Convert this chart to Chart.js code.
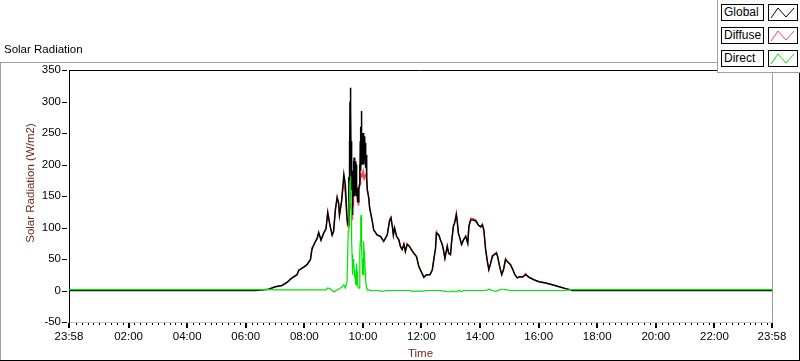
<!DOCTYPE html>
<html>
<head>
<meta charset="utf-8">
<script src="https://cdn.jsdelivr.net/npm/chart.js@4.4.1/dist/chart.umd.min.js"></script>
<style>
  html, body { margin: 0; padding: 0; background: #fff; }
  #wrap { position: relative; width: 800px; height: 361px; overflow: hidden; }
  #legend { position: absolute; left: 717px; top: 0; width: 83px; height: 73px; background: #fff;
    border-left: 1px solid #a0a0a0; border-bottom: 1px solid #a0a0a0; box-sizing: border-box;
    font: 12px "Liberation Sans", Arial, sans-serif; color: #000; }
  .row { position: absolute; left: 3px; height: 17px; width: 78px; }
  .name { position: absolute; left: 0; top: 0; width: 43px; height: 17px; border: 1px solid #000;
    box-sizing: border-box; padding-left: 2px; line-height: 15px; }
  .swatch { position: absolute; left: 47px; top: 0; width: 30px; height: 17px; border: 1px solid #000;
    box-sizing: border-box; }
  .swatch svg { display: block; }
</style>
</head>
<body>
<div id="wrap">
  <canvas id="chart" width="800" height="361"></canvas>
  <div id="legend"></div>
</div>
<script>
// time of day in hours (23:58 the evening before = -0.03)
const timeHours = [
  -0.03, 6.33, 6.78, 7.01, 7.24, 7.41, 7.58, 7.75, 7.81, 7.98,
  8.09, 8.21, 8.26, 8.35, 8.44, 8.49, 8.57, 8.66, 8.74, 8.80,
  8.87, 8.95, 9.00, 9.06, 9.12, 9.17, 9.20, 9.27, 9.35, 9.40,
  9.46,
  9.50, 9.52, 9.53, 9.54, 9.55, 9.56, 9.57, 9.58, 9.59, 9.60,
  9.61, 9.62, 9.63, 9.64, 9.65, 9.66, 9.67, 9.68, 9.69, 9.70,
  9.71, 9.72, 9.73, 9.74, 9.75, 9.76, 9.77, 9.78, 9.79, 9.80,
  9.81, 9.83, 9.84, 9.86, 9.88, 9.89, 9.90, 9.91, 9.92, 9.93,
  9.94, 9.95, 9.96, 9.97, 9.98, 9.99, 10.00, 10.01, 10.02, 10.03,
  10.04, 10.05, 10.06, 10.07, 10.08, 10.09, 10.10, 10.11, 10.13, 10.15,
  10.20, 10.23, 10.32, 10.37, 10.49, 10.60, 10.71, 10.83, 10.91, 10.96,
  11.01, 11.04, 11.08, 11.15, 11.23, 11.28, 11.34, 11.40, 11.45, 11.51,
  11.59, 11.65, 11.74, 11.83, 11.91, 11.99, 12.08, 12.17, 12.29, 12.37,
  12.42, 12.48, 12.51, 12.59, 12.65, 12.71, 12.76, 12.80, 12.88, 12.93,
  12.99, 13.03, 13.09, 13.13, 13.19, 13.22, 13.26, 13.31, 13.37, 13.43,
  13.51, 13.58, 13.62, 13.68, 13.77, 13.86, 13.94, 14.02, 14.08, 14.13,
  14.19, 14.25, 14.30, 14.36, 14.42, 14.51, 14.56, 14.60, 14.67, 14.74,
  14.80, 14.87, 14.93, 15.04, 15.12, 15.19, 15.27, 15.36, 15.44, 15.56,
  15.67, 15.84, 16.01, 16.24, 16.47, 16.70, 16.92, 17.10, 17.16, 23.97
];
const globalW = [
  0, 0, 2, 6, 8, 13, 20, 25, 32, 37,
  41, 49, 65, 75, 83, 92, 80, 91, 98, 123,
  105, 88, 94, 128, 147, 139, 120, 141, 184, 168,
  115,
  104, 180, 150, 237, 200, 300, 322, 220, 290, 190,
  237, 160, 190, 140, 120, 175, 150, 205, 160, 211,
  170, 195, 150, 184, 155, 205, 170, 200, 150, 163,
  140, 160, 141, 160, 168, 200, 170, 237, 190, 260,
  200, 285, 210, 250, 200, 240, 205, 230, 200, 250,
  210, 237, 215, 245, 205, 234, 195, 215, 179, 160,
  147, 131, 110, 96, 88, 86, 78, 88, 110, 115,
  100, 88, 99, 86, 80, 70, 65, 73, 62, 73,
  70, 65, 59, 54, 38, 30, 21, 25, 25, 33,
  49, 67, 91, 88, 80, 73, 62, 51, 70, 59,
  57, 78, 102, 107, 120, 110, 91, 83, 73, 80,
  86, 75, 102, 112, 112, 110, 104, 101, 104, 96,
  65, 46, 33, 43, 54, 58, 59, 54, 38, 25,
  33, 49, 46, 41, 33, 25, 20, 22, 21, 25,
  21, 17, 14, 12, 9, 6, 3, 1, 0, 0
];
const diffuseW = [
  0, 0, 2, 6, 8, 13, 20, 25, 32, 37,
  41, 49, 68, 75, 83, 92, 80, 91, 98, 126,
  105, 88, 94, 128, 150, 139, 118, 141, 172, 152,
  105,
  100, 115, 120, 132, 130, 138, 138, 135, 132, 130,
  128, 122, 122, 115, 112, 130, 135, 145, 150, 155,
  158, 160, 150, 160, 150, 168, 165, 165, 150, 150,
  140, 150, 136, 155, 165, 175, 168, 178, 175, 182,
  180, 186, 180, 185, 180, 188, 185, 190, 185, 180,
  176, 178, 176, 182, 180, 186, 180, 186, 172, 160,
  147, 131, 110, 96, 88, 86, 78, 88, 113, 117,
  100, 88, 101, 86, 80, 70, 65, 75, 62, 75,
  70, 65, 59, 54, 38, 30, 21, 25, 25, 33,
  49, 67, 94, 88, 80, 73, 62, 51, 72, 59,
  57, 78, 102, 107, 124, 110, 91, 83, 73, 80,
  86, 75, 102, 115, 114, 112, 104, 101, 106, 96,
  65, 46, 33, 43, 56, 58, 61, 54, 38, 25,
  33, 51, 46, 41, 33, 25, 20, 22, 21, 27,
  21, 17, 14, 12, 9, 6, 3, 1, 0, 0
];
const directW = [
  1.5, 1.5, 1.5, 1, 1, 1, 1, 1, 1, 1,
  1, 1, 1, 1, 1, 1, 1, 1, 1, 4,
  3, 0, -2, -1, 1, 2, 3, 5, 9, 4,
  14,
  94, 120, 141, 141, 160, 175, 181, 170, 150, 131,
  110, 80, 57, 40, 25, 35, 50, 40, 46, 35,
  30, 30, 20, 25, 15, 10, 9, 25, 43, 30,
  15, 9, 5, 4, 4, 30, 60, 78, 100, 115,
  120, 110, 67, 50, 30, 25, 40, 25, 45, 78,
  60, 62, 40, 50, 30, 27, 15, 8, 4, 2,
  1, 0, 0, 0, 0, -1, -1, 0, 0, 0,
  0, 0, 0, 0, 0, 0, 0, 0, 0, 0,
  0, -1, -1, -1, -1, -1, -1, 0, 0, 0,
  0, 0, 0, 0, 0, -1, -1, -1, -2, -2,
  -2, -1, -1, -2, -2, -1, -1, 0, -2, 0,
  0, 0, 0, 0, 0, 0, 0, 0, 0, 0,
  0, 1, 2, 1, 0, -1, -1, 0, 1, 2,
  2, 1, 1, 0, 0, 0, 0, 0, 0, 0,
  0, 0, 0, 0, 0, 0, 0, 1.5, 1.5, 1.5
];

const seriesNames = ['Global', 'Diffuse', 'Direct'];
const seriesColors = ['#000000', '#ff4444', '#00e400'];
const seriesValues = [globalW, diffuseW, directW];

const xTickHours = [-2 / 60, 2, 4, 6, 8, 10, 12, 14, 16, 18, 20, 22, 24 - 2 / 60];
const xTickLabels = ['23:58', '02:00', '04:00', '06:00', '08:00', '10:00', '12:00',
  '14:00', '16:00', '18:00', '20:00', '22:00', '23:58'];
const yTicks = [-50, 0, 50, 100, 150, 200, 250, 300, 350];

const FONT = '"Liberation Sans", Arial, sans-serif';
const TITLE_COLOR = '#6a2c1c';

// legend, LabVIEW style: name box + small zigzag swatch
const legend = document.getElementById('legend');
seriesNames.forEach((name, i) => {
    const row = document.createElement('div');
    row.className = 'row';
    row.style.top = (4 + i * 23) + 'px';
    row.innerHTML = `
      <div class="name">${name}</div>
      <div class="swatch">
        <svg width="28" height="15"><polyline points="2,13 9,3 17,12 25,3" fill="none"
          stroke="${seriesColors[i]}" stroke-width="1"/></svg>
      </div>`;
    legend.appendChild(row);
});

const framePlugin = {
    id: 'frame',
    beforeDraw(chart) {
        const ctx = chart.ctx;
        const a = chart.chartArea;
        ctx.save();
        ctx.fillStyle = '#fff';
        ctx.fillRect(0, 0, chart.width, chart.height);
        ctx.lineWidth = 1;
        // panel border
        ctx.strokeStyle = '#a0a0a0';
        ctx.beginPath();
        ctx.moveTo(0, 62.5); ctx.lineTo(717, 62.5);
        ctx.moveTo(0.5, 62); ctx.lineTo(0.5, 361);
        ctx.stroke();
        ctx.strokeStyle = '#000';
        ctx.beginPath();
        ctx.moveTo(0, 360.5); ctx.lineTo(800, 360.5);
        ctx.moveTo(799.5, 72); ctx.lineTo(799.5, 361);
        ctx.stroke();
        // caption
        ctx.fillStyle = '#000';
        ctx.font = '11.5px ' + FONT;
        ctx.textBaseline = 'middle';
        ctx.fillText('Solar Radiation', 4, 50);
        // plot box top and right
        ctx.strokeStyle = '#000';
        ctx.beginPath();
        ctx.moveTo(a.left, a.top + 0.5); ctx.lineTo(a.right, a.top + 0.5);
        ctx.stroke();
        ctx.strokeStyle = '#a0a0a0';
        ctx.beginPath();
        ctx.moveTo(a.right + 0.5, a.top); ctx.lineTo(a.right + 0.5, a.bottom);
        ctx.stroke();
        ctx.restore();
    },
    afterDraw(chart) {
        const ctx = chart.ctx;
        const a = chart.chartArea;
        const xs = chart.scales.x;
        const ys = chart.scales.y;
        ctx.save();
        ctx.fillStyle = '#000';
        // y tick dashes
        yTicks.forEach(v => {
            ctx.fillRect(62, Math.round(ys.getPixelForValue(v)), 5, 1);
        });
        // x ticks: majors every 2 h, minors every 12 min
        for (let m = 12; m < 24 * 60 - 2; m += 12) {
            if (m % 120 === 0) continue;
            ctx.fillRect(Math.round(xs.getPixelForValue(m / 60)), a.bottom + 1, 1, 2);
        }
        xTickHours.forEach(h => {
            ctx.fillRect(Math.round(xs.getPixelForValue(h)) - 1, a.bottom + 1, 2, 5);
        });
        // axis titles
        ctx.fillStyle = TITLE_COLOR;
        ctx.font = '11.5px ' + FONT;
        ctx.textAlign = 'center';
        ctx.textBaseline = 'middle';
        ctx.fillText('Time', (a.left + a.right) / 2, 354);
        ctx.translate(31, 183);
        ctx.rotate(-Math.PI / 2);
        ctx.fillText('Solar Radiation (W/m2)', 0, 0);
        ctx.restore();
    }
};

// direct on top, then global, diffuse underneath
const drawOrder = [1, 2, 0];
const lineWidths = [1.5, 1.2, 1.2];

new Chart(document.getElementById('chart'), {
    type: 'line',
    data: {
        datasets: seriesNames.map((name, i) => ({
            label: name,
            data: timeHours.map((t, k) => ({ x: t, y: seriesValues[i][k] })),
            borderColor: seriesColors[i],
            borderWidth: lineWidths[i],
            pointRadius: 0,
            tension: 0,
            fill: false,
            order: drawOrder[i]
        }))
    },
    options: {
        responsive: false,
        animation: false,
        events: [],
        layout: { padding: { top: 70, right: 28, left: 0, bottom: 0 } },
        plugins: { legend: { display: false }, tooltip: { enabled: false } },
        scales: {
            x: {
                type: 'linear',
                min: -2 / 60,
                max: 24 - 2 / 60,
                afterFit: s => { s.height = 39; },
                afterBuildTicks: s => { s.ticks = xTickHours.map(v => ({ value: v })); },
                grid: { drawOnChartArea: false, drawTicks: false },
                border: { color: '#c8c8c8' },
                ticks: {
                    autoSkip: false,
                    maxRotation: 0,
                    padding: 8,
                    color: '#000',
                    font: { family: FONT, size: 11.5 },
                    callback: v => {
                        const i = xTickHours.findIndex(h => Math.abs(h - v) < 1e-6);
                        return i >= 0 ? xTickLabels[i] : '';
                    }
                }
            },
            y: {
                min: -50,
                max: 350,
                afterFit: s => { s.width = 69; },
                afterBuildTicks: s => { s.ticks = yTicks.map(v => ({ value: v })); },
                grid: { drawOnChartArea: false, drawTicks: false },
                border: { color: '#000' },
                ticks: {
                    padding: 8,
                    color: '#000',
                    font: { family: FONT, size: 11.5 }
                }
            }
        }
    },
    plugins: [framePlugin]
});
</script>
</body>
</html>
